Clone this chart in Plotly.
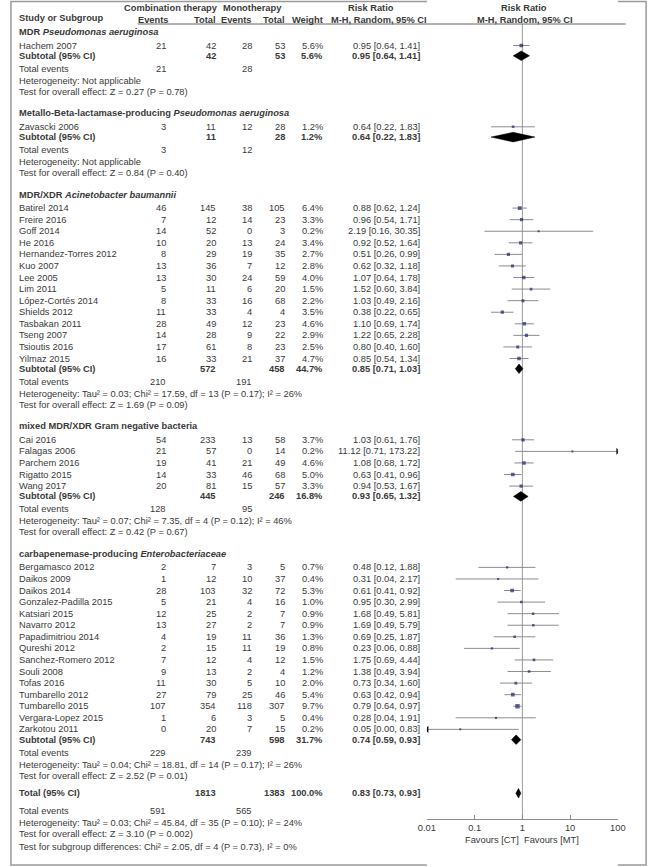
import math
import plotly.graph_objects as go

# ---------------- data ----------------
group_titles = [
    "MDR <i>Pseudomonas aeruginosa</i>",
    "Metallo-Beta-lactamase-producing <i>Pseudomonas aeruginosa</i>",
    "MDR/XDR <i>Acinetobacter baumannii</i>",
    "mixed MDR/XDR Gram negative bacteria",
    "carbapenemase-producing <i>Enterobacteriaceae</i>",
]

study_names = [
    "Hachem 2007",
    "Zavascki 2006",
    "Batirel 2014", "Freire 2016", "Goff 2014", "He 2016", "Hernandez-Torres 2012",
    "Kuo 2007", "Lee 2005", "Lim 2011", "López-Cortés 2014", "Shields 2012",
    "Tasbakan 2011", "Tseng 2007", "Tsioutis 2016", "Yilmaz 2015",
    "Cai 2016", "Falagas 2006", "Parchem 2016", "Rigatto 2015", "Wang 2017",
    "Bergamasco 2012", "Daikos 2009", "Daikos 2014", "Gonzalez-Padilla 2015",
    "Katsiari 2015", "Navarro 2012", "Papadimitriou 2014", "Qureshi 2012",
    "Sanchez-Romero 2012", "Souli 2008", "Tofas 2016", "Tumbarello 2012",
    "Tumbarello 2015", "Vergara-Lopez 2015", "Zarkotou 2011",
]
study_group = [0, 1] + [2] * 14 + [3] * 5 + [4] * 15
ct_events = [21, 3, 46, 7, 14, 10, 8, 13, 13, 5, 8, 11, 28, 14, 17, 16,
             54, 21, 19, 14, 20,
             2, 1, 28, 5, 12, 13, 4, 2, 7, 9, 11, 27, 107, 1, 0]
ct_totals = [42, 11, 145, 12, 52, 20, 29, 36, 30, 11, 33, 33, 49, 28, 61, 33,
             233, 57, 41, 33, 81,
             7, 12, 103, 21, 25, 27, 19, 15, 12, 13, 30, 79, 354, 6, 20]
mt_events = [28, 12, 38, 14, 0, 13, 19, 7, 24, 6, 16, 4, 12, 9, 8, 21,
             13, 0, 21, 46, 15,
             3, 10, 32, 4, 2, 2, 11, 11, 4, 2, 5, 25, 118, 3, 7]
mt_totals = [53, 28, 105, 23, 3, 24, 35, 12, 59, 20, 68, 4, 23, 22, 23, 37,
             58, 14, 49, 68, 57,
             5, 37, 72, 16, 7, 7, 36, 19, 12, 4, 10, 46, 307, 5, 15]
weights = [5.6, 1.2, 6.4, 3.3, 0.2, 3.4, 2.7, 2.8, 4.0, 1.5, 2.2, 3.5, 4.6, 2.9, 2.5, 4.7,
           3.7, 0.2, 4.6, 5.0, 3.3,
           0.7, 0.4, 5.3, 1.0, 0.9, 0.9, 1.3, 0.8, 1.5, 1.2, 2.0, 5.4, 9.7, 0.4, 0.2]
risk_ratio = [0.95, 0.64, 0.88, 0.96, 2.19, 0.92, 0.51, 0.62, 1.07, 1.52, 1.03, 0.38,
              1.10, 1.22, 0.80, 0.85,
              1.03, 11.12, 1.08, 0.63, 0.94,
              0.48, 0.31, 0.61, 0.95, 1.68, 1.69, 0.69, 0.23, 1.75, 1.38, 0.73,
              0.63, 0.79, 0.28, 0.05]
ci_low = [0.64, 0.22, 0.62, 0.54, 0.16, 0.52, 0.26, 0.32, 0.64, 0.60, 0.49, 0.22,
          0.69, 0.65, 0.40, 0.54,
          0.61, 0.71, 0.68, 0.41, 0.53,
          0.12, 0.04, 0.41, 0.30, 0.49, 0.49, 0.25, 0.06, 0.69, 0.49, 0.34,
          0.42, 0.64, 0.04, 0.00]
ci_high = [1.41, 1.83, 1.24, 1.71, 30.35, 1.64, 0.99, 1.18, 1.78, 3.84, 2.16, 0.65,
           1.74, 2.28, 1.60, 1.34,
           1.76, 173.22, 1.72, 0.96, 1.67,
           1.88, 2.17, 0.92, 2.99, 5.81, 5.79, 1.87, 0.88, 4.44, 3.94, 1.60,
           0.94, 0.97, 1.91, 0.83]

sub_ct_total = [42, 11, 572, 445, 743]
sub_mt_total = [53, 28, 458, 246, 598]
sub_weight = [5.6, 1.2, 44.7, 16.8, 31.7]
sub_rr = [0.95, 0.64, 0.85, 0.93, 0.74]
sub_low = [0.64, 0.22, 0.71, 0.65, 0.59]
sub_high = [1.41, 1.83, 1.03, 1.32, 0.93]
sub_ct_events = [21, 3, 210, 128, 229]
sub_mt_events = [28, 12, 191, 95, 239]
sub_het = [
    "Heterogeneity: Not applicable",
    "Heterogeneity: Not applicable",
    "Heterogeneity: Tau² = 0.03; Chi² = 17.59, df = 13 (P = 0.17); I² = 26%",
    "Heterogeneity: Tau² = 0.07; Chi² = 7.35, df = 4 (P = 0.12); I² = 46%",
    "Heterogeneity: Tau² = 0.04; Chi² = 18.81, df = 14 (P = 0.17); I² = 26%",
]
sub_test = [
    "Test for overall effect: Z = 0.27 (P = 0.78)",
    "Test for overall effect: Z = 0.84 (P = 0.40)",
    "Test for overall effect: Z = 1.69 (P = 0.09)",
    "Test for overall effect: Z = 0.42 (P = 0.67)",
    "Test for overall effect: Z = 2.52 (P = 0.01)",
]

total_ct, total_mt, total_weight = 1813, 1383, 100.0
total_rr, total_low, total_high = 0.83, 0.73, 0.93
total_ct_events, total_mt_events = 591, 565
total_het = "Heterogeneity: Tau² = 0.03; Chi² = 45.84, df = 35 (P = 0.10); I² = 24%"
total_test = "Test for overall effect: Z = 3.10 (P = 0.002)"
subgroup_test = "Test for subgroup differences: Chi² = 2.05, df = 4 (P = 0.73), I² = 0%"

axis_ticks = [0.01, 0.1, 1, 10, 100]
axis_ticktext = ["0.01", "0.1", "1", "10", "100"]

# ---------------- style / layout ----------------
W, H = 658, 867
FONT = "Liberation Sans, Arial, sans-serif"
FS = 9.3
TXT = "#3a3a3a"
AX_LO, AX_HI = 0.01, 100
PLOT_X0, PLOT_X1 = 429, 625
AXIS_Y = 819
HEADER_LINE_Y = 24

X_NAME = 9
X_CTE, X_CTT, X_MTE, X_MTT, X_W, X_RR = 162, 213, 250, 284, 323, 423

annotations = []


def txt(x, y, s, anchor="left", bold=False, size=FS):
    annotations.append(dict(
        x=x, y=y, xref="x", yref="y", showarrow=False,
        text=("<b>%s</b>" % s) if bold else s,
        xanchor=anchor, yanchor="middle", borderpad=0,
        font=dict(family=FONT, size=size, color=TXT)))


def rr_text(r, lo, hi):
    return "%.2f [%.2f, %.2f]" % (r, lo, hi)


# headers
txt(166, 8, "Combination therapy", "center", True)
txt(250, 8, "Monotherapy", "center", True)
txt(372, 8, "Risk Ratio", "center", True)
txt(529, 8, "Risk Ratio", "center", True)
txt(X_NAME, 18, "Study or Subgroup", "left", True)
txt(148, 19.5, "Events", "center", True)
txt(X_CTT, 19.5, "Total", "right", True)
txt(X_MTE, 19.5, "Events", "right", True)
txt(X_MTT, 19.5, "Total", "right", True)
txt(X_W, 19.5, "Weight", "right", True)
txt(380, 19.5, "M-H, Random, 95% CI", "center", True)
txt(530, 19.5, "M-H, Random, 95% CI", "center", True)

# row positions
HDR_TO_STUDY, STUDY_STEP, STUDY_TO_SUB = 13.5, 11.57, 10.3
SUB_TO_TE, TE_TO_HET, HET_TO_TEST, TEST_TO_HDR = 13.0, 12.0, 11.0, 21.5

study_y = [None] * len(study_names)
sub_y = []
y = 32
for g in range(len(group_titles)):
    txt(X_NAME, y, group_titles[g], "left", True)
    idx = [i for i, gg in enumerate(study_group) if gg == g]
    y += HDR_TO_STUDY
    for k, i in enumerate(idx):
        if k > 0:
            y += STUDY_STEP
        study_y[i] = y
        txt(X_NAME, y, study_names[i])
        txt(X_CTE, y, str(ct_events[i]), "right")
        txt(X_CTT, y, str(ct_totals[i]), "right")
        txt(X_MTE, y, str(mt_events[i]), "right")
        txt(X_MTT, y, str(mt_totals[i]), "right")
        txt(X_W, y, "%.1f%%" % weights[i], "right")
        txt(X_RR, y, rr_text(risk_ratio[i], ci_low[i], ci_high[i]), "right")
    y += STUDY_TO_SUB
    sub_y.append(y)
    txt(X_NAME, y, "Subtotal (95% CI)", "left", True)
    txt(X_CTT, y, str(sub_ct_total[g]), "right", True)
    txt(X_MTT, y, str(sub_mt_total[g]), "right", True)
    txt(X_W, y, "%.1f%%" % sub_weight[g], "right", True)
    txt(X_RR, y, rr_text(sub_rr[g], sub_low[g], sub_high[g]), "right", True)
    y += SUB_TO_TE
    txt(X_NAME, y, "Total events")
    txt(X_CTE, y, str(sub_ct_events[g]), "right")
    txt(X_MTE, y, str(sub_mt_events[g]), "right")
    y += TE_TO_HET
    txt(X_NAME, y, sub_het[g])
    y += HET_TO_TEST
    txt(X_NAME, y, sub_test[g])
    if g < len(group_titles) - 1:
        y += TEST_TO_HDR

y += 17.6
total_y = y
txt(X_NAME, y, "Total (95% CI)", "left", True)
txt(X_CTT, y, str(total_ct), "right", True)
txt(X_MTT, y, str(total_mt), "right", True)
txt(X_W, y, "%.1f%%" % total_weight, "right", True)
txt(X_RR, y, rr_text(total_rr, total_low, total_high), "right", True)
y += 17.7
txt(X_NAME, y, "Total events")
txt(X_CTE, y, str(total_ct_events), "right")
txt(X_MTE, y, str(total_mt_events), "right")
y += 11.7
txt(X_NAME, y, total_het)
y += 11.3
txt(X_NAME, y, total_test)
y += 12.7
txt(X_NAME, y, subgroup_test)

txt(525, 840, "Favours [CT]", "right")
txt(528, 840, "Favours [MT]", "left")

# ---------------- traces ----------------
fig = go.Figure()

# reference line at RR = 1
fig.add_trace(go.Scatter(x=[1, 1], y=[HEADER_LINE_Y, AXIS_Y], xaxis="x2", yaxis="y",
                         mode="lines", line=dict(color="#9a9a9a", width=1),
                         hoverinfo="skip", showlegend=False))

# CI lines
cx, cy = [], []
la_x, la_y, ra_x, ra_y = [], [], [], []
for i in range(len(study_names)):
    lo = max(ci_low[i], AX_LO)
    hi = min(ci_high[i], AX_HI)
    cx += [lo, hi, None]
    cy += [study_y[i], study_y[i], None]
    if ci_low[i] < AX_LO:
        la_x.append(AX_LO)
        la_y.append(study_y[i])
    if ci_high[i] > AX_HI:
        ra_x.append(AX_HI)
        ra_y.append(study_y[i])
fig.add_trace(go.Scatter(x=cx, y=cy, xaxis="x2", yaxis="y", mode="lines",
                         line=dict(color="#8c8c8c", width=1),
                         hoverinfo="skip", showlegend=False))
fig.add_trace(go.Scatter(x=la_x, y=la_y, xaxis="x2", yaxis="y", mode="markers",
                         marker=dict(symbol="triangle-left", size=6, color="#111"),
                         hoverinfo="skip", showlegend=False))
fig.add_trace(go.Scatter(x=ra_x, y=ra_y, xaxis="x2", yaxis="y", mode="markers",
                         marker=dict(symbol="triangle-right", size=6, color="#111"),
                         hoverinfo="skip", showlegend=False))

# study squares
fig.add_trace(go.Scatter(x=risk_ratio, y=study_y, xaxis="x2", yaxis="y", mode="markers",
                         marker=dict(symbol="square", color="#1c2470",
                                     size=[1.6 + 0.9 * math.sqrt(w) for w in weights],
                                     line=dict(width=0)),
                         hoverinfo="skip", showlegend=False))

# diamonds
DH = 4.8
for r, lo, hi, yy in list(zip(sub_rr, sub_low, sub_high, sub_y)) + [(total_rr, total_low, total_high, total_y)]:
    fig.add_trace(go.Scatter(x=[lo, r, hi, r, lo], y=[yy, yy - DH, yy, yy + DH, yy],
                             xaxis="x2", yaxis="y", mode="lines", fill="toself",
                             fillcolor="#000000", line=dict(color="#000000", width=0.5),
                             hoverinfo="skip", showlegend=False))

shapes = [
    dict(type="rect", xref="x", yref="y", x0=2, y0=1.5, x1=654, y1=865,
         line=dict(color="#9a9a9a", width=1.5), fillcolor="rgba(0,0,0,0)", layer="below"),
    dict(type="line", xref="x", yref="y", x0=132, x1=633, y0=HEADER_LINE_Y, y1=HEADER_LINE_Y,
         line=dict(color="#666666", width=1)),
]

fig.update_layout(
    width=W, height=H,
    margin=dict(l=0, r=0, t=0, b=0),
    paper_bgcolor="white", plot_bgcolor="white",
    showlegend=False,
    xaxis=dict(range=[0, W], domain=[0, 1], visible=False, fixedrange=True),
    yaxis=dict(range=[H, 0], domain=[0, 1], visible=False, fixedrange=True),
    xaxis2=dict(type="log", range=[math.log10(AX_LO), math.log10(AX_HI)],
                domain=[PLOT_X0 / W, PLOT_X1 / W], anchor="free",
                position=1 - AXIS_Y / H, showgrid=False, zeroline=False,
                showline=True, linecolor="#8c8c8c", linewidth=1,
                ticks="inside", ticklen=4, tickcolor="#8c8c8c",
                tickvals=axis_ticks, ticktext=axis_ticktext,
                tickfont=dict(family=FONT, size=FS, color=TXT), fixedrange=True),
    annotations=annotations,
    shapes=shapes,
)

fig.write_html(
    "out.html",
    config={"displayModeBar": False, "staticPlot": True},
    post_script="document.body.style.margin='0px';document.body.style.padding='0px';"
                "document.body.style.overflow='hidden';",
)
